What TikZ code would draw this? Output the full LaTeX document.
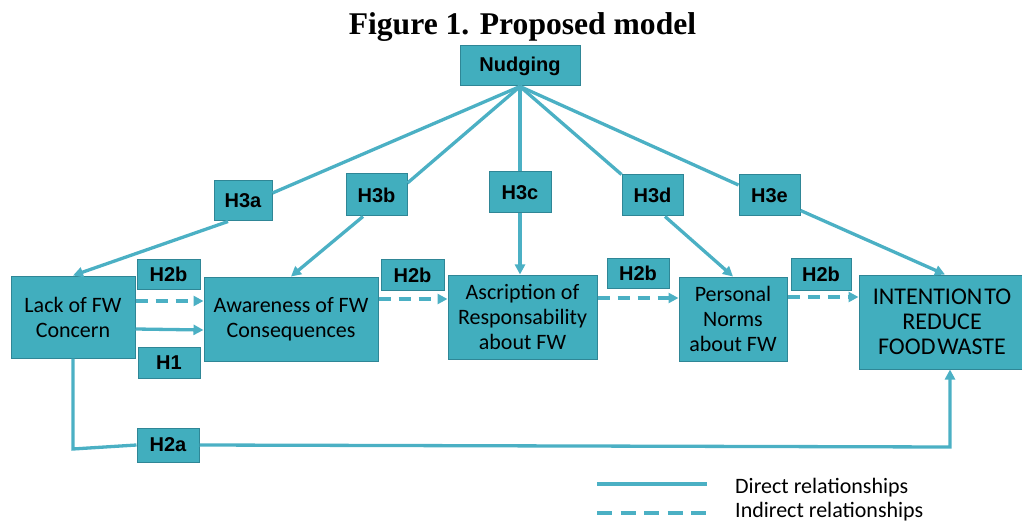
\documentclass[tikz,border=0pt]{standalone}
\usepackage{fontspec}
\setmainfont{Carlito}
\newfontfamily\arialf{Liberation Sans}
\newfontfamily\timesf{Liberation Serif}
\usetikzlibrary{arrows.meta}
\definecolor{boxfill}{RGB}{65,174,190}
\definecolor{boxline}{RGB}{47,134,150}
\definecolor{conn}{RGB}{75,176,196}
\newcommand{\tightspace}{\spaceskip=0.08em\relax}
\tikzset{
  box/.style={draw=boxline, line width=1pt, fill=boxfill, inner sep=0pt, align=center,
    font=\fontsize{22}{25}\selectfont},
  hbox/.style={draw=boxline, line width=1pt, fill=boxfill, inner sep=0pt, align=center,
    font=\arialf\bfseries\fontsize{20}{24}\selectfont},
  link/.style={draw=conn, line width=3.3pt},
  arr/.style={link, -{Triangle[length=10pt,width=10pt]}},
  dlink/.style={link, dash pattern=on 12pt off 8pt},
  darr/.style={dlink, -{Triangle[length=10pt,width=10pt]}},
  legtext/.style={anchor=base west, inner sep=0pt, font=\fontsize{22}{25}\selectfont}
}
\begin{document}
\begin{tikzpicture}[x=1pt,y=-1pt]
\useasboundingbox (0,0) rectangle (1022,521);
% title
\node[anchor=base, inner sep=0pt, font=\timesf\bfseries\fontsize{31.6}{36}\selectfont] (title) at (522.5,35) {Figure 1. Proposed model};
% main boxes
\node[box, minimum width=124pt, minimum height=82pt] (lack) at (73,317) {Lack of FW\\Concern};
\node[box, minimum width=174pt, minimum height=84pt] (aware) at (291,319) {Awareness of FW\\Consequences};
\node[box, minimum width=149pt, minimum height=84pt] (ascr) at (522.5,317) {Ascription of\\Responsability\\about FW};
\node[box, minimum width=108pt, minimum height=84pt] (pers) at (733,319) {Personal\\Norms\\about FW};
\node[box, minimum width=166pt, minimum height=94pt, font=\fontsize{24}{25}\selectfont] (inten) at (942,322) {\tightspace INTENTION TO\\\tightspace REDUCE\\\tightspace FOOD WASTE};
% hypothesis labels
\node[hbox, minimum width=120pt, minimum height=40pt] (nud) at (520,66) {Nudging};
\node[hbox, minimum width=58pt, minimum height=40pt] (h3a) at (243,201) {H3a};
\node[hbox, minimum width=61pt, minimum height=42pt] (h3b) at (376.5,195) {H3b};
\node[hbox, minimum width=62pt, minimum height=41pt] (h3c) at (520,192.5) {H3c};
\node[hbox, minimum width=61pt, minimum height=41pt] (h3d) at (652.5,195.5) {H3d};
\node[hbox, minimum width=61pt, minimum height=41pt] (h3e) at (769.5,195.5) {H3e};
\node[hbox, minimum width=63pt, minimum height=29pt] (h2ba) at (168.5,274.5) {H2b};
\node[hbox, minimum width=63pt, minimum height=30pt] (h2bb) at (412.5,275) {H2b};
\node[hbox, minimum width=62pt, minimum height=29pt] (h2bc) at (638,273.5) {H2b};
\node[hbox, minimum width=60pt, minimum height=31pt] (h2bd) at (821,274.5) {H2b};
\node[hbox, minimum width=62pt, minimum height=31pt] (h1) at (169,362.5) {H1};
% Nudging fan
\draw[link] (nud.south) -- ([yshift=8pt]h3a.east);
\draw[link] (nud.south) -- ([yshift=12pt]h3b.east);
\draw[link] (nud.south) -- (h3c.north);
\draw[link] (nud.south) -- (h3d.north west);
\draw[link] (nud.south) -- ([yshift=10.5pt]h3e.west);
\draw[arr] ([xshift=-15pt]h3a.south) -- (lack.north);
\draw[arr] ([xshift=-13.5pt]h3b.south) -- (aware.north);
\draw[arr] (h3c.south) -- (h3c.south |- ascr.north);
\draw[arr] ([xshift=12.5pt]h3d.south) -- (pers.north);
\draw[arr] ([yshift=6pt]h3e.south east) -- ([xshift=3pt]inten.north);
% horizontal links
\draw[darr] ([yshift=16pt]lack.east) -- ([yshift=16pt]lack.east -| aware.west);
\draw[arr] ([yshift=-12pt]lack.east) -- ([yshift=-11pt]aware.west);
\draw[darr] ([yshift=20pt]aware.east) -- ([yshift=20pt]aware.east -| ascr.west);
\draw[darr] ([yshift=19pt]ascr.east) -- ([yshift=19pt]ascr.east -| pers.west);
\draw[darr] ([yshift=22pt]pers.east) -- ([yshift=22pt]pers.east -| inten.west);
% H2a path
\node[hbox, minimum width=62pt, minimum height=34pt] (h2a) at (168,445) {H2a};
\coordinate (c1) at (73,449);
\coordinate (c2) at (950,447);
\draw[link] (lack.south) -- (c1) -- (h2a.west);
\draw[arr] (h2a.east) -- (c2) -- (c2 |- inten.south);
% legend
\coordinate (la) at (597,484);
\coordinate (lb) at (707,484);
\coordinate (lc) at (597,513);
\coordinate (ld) at (707,513);
\draw[link] (la) -- (lb);
\draw[link, dash pattern=on 15pt off 8.5pt] (lc) -- (ld);
\node[legtext] (ldir) at (735,493) {Direct relationships};
\node[legtext] (lind) at (735,517) {Indirect relationships};
\end{tikzpicture}
\end{document}
